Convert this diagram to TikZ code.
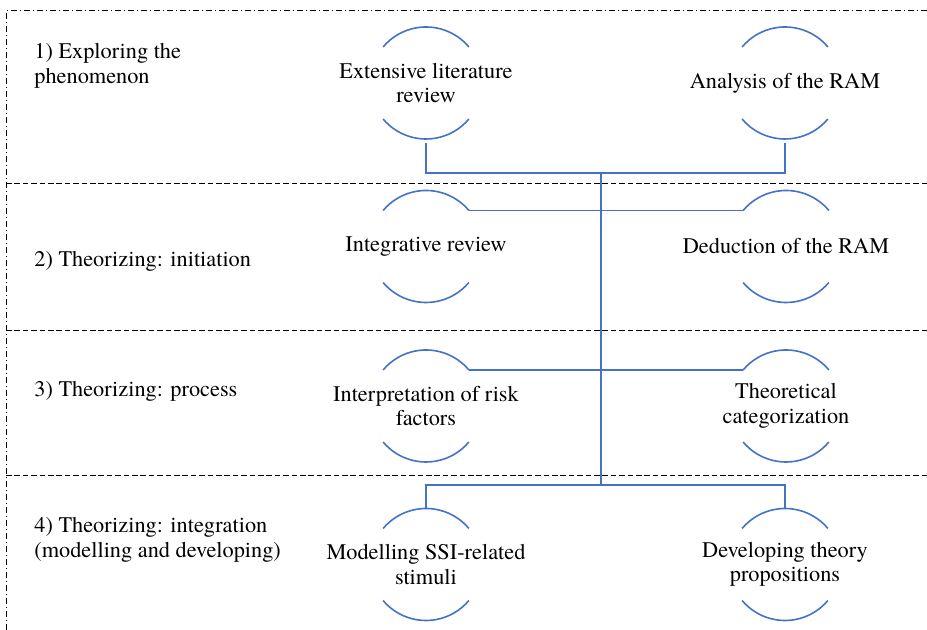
\documentclass[tikz,border=0pt]{standalone}
\usepackage{fontspec}
\setmainfont{texgyretermes-regular.otf}
\usetikzlibrary{calc}
\definecolor{wblue}{HTML}{4472C4}
\begin{document}
\begin{tikzpicture}[x=0.5pt,y=0.5pt,
  ringtext/.style={inner sep=0pt, align=center, font=\rmfamily\fontsize{11.15}{12.25}\selectfont},
  lbl/.style={anchor=west, align=left, inner sep=0pt, font=\rmfamily\fontsize{11.15}{12.5}\selectfont},
  arcline/.style={draw=wblue, line width=0.8pt},
  conn/.style={draw=wblue, line width=0.8pt},
  sepline/.style={draw=black, line width=0.5pt, dash pattern=on 2.8pt off 1.4pt},
  frameline/.style={draw=black, line width=0.5pt, dash pattern=on 3pt off 1.5pt on 0.5pt off 1.5pt}]
\useasboundingbox (0,0) rectangle (927,630);

% frame and row separators
\draw[frameline] (6,0) -- (6,619) -- (927,619);
\draw[sepline] (6,446) -- (927,446);
\draw[sepline] (6,299) -- (927,299);
\draw[sepline] (6,154) -- (927,154);

% row labels
\node[lbl] (L1) at (34,564) {1) Exploring the\\phenomenon};
\node[lbl] (L2) at (34,369) {2) Theorizing: initiation};
\node[lbl] (L3) at (34,239) {3) Theorizing: process};
\node[lbl] (L4) at (34,90) {4) Theorizing: integration\\(modelling and developing)};

% nodes
\node[ringtext] (A) at (426,547) {Extensive literature\\review};
\node[ringtext] (B) at (785,547) {Analysis of the RAM};
\node[ringtext] (C) at (426,383.5) {Integrative review};
\node[ringtext] (D) at (786,383.5) {Deduction of the RAM};
\node[ringtext] (E) at (426,224) {Interpretation of risk\\factors};
\node[ringtext] (F) at (786,224) {Theoretical\\categorization};
\node[ringtext] (G) at (426,65.5) {Modelling SSI-related\\stimuli};
\node[ringtext] (H) at (785,65.5) {Developing theory\\propositions};

\foreach \n in {A,B,C,D,E,F,G,H}{
  \draw[arcline] ($(\n.center)+(40:28pt)$) arc[start angle=40,end angle=140,radius=28pt];
  \draw[arcline] ($(\n.center)+(220:28pt)$) arc[start angle=220,end angle=320,radius=28pt];
}

% connectors
\coordinate (jt) at (601,457);
\coordinate (jb) at (601,145);
\draw[conn] ($(A.center)+(0,-30pt)$) |- (jt) -| ($(B.center)+(0,-30pt)$);
\draw[conn] (jt) -- (jb);
\draw[conn] ($(C.center)+(40:28pt)$) -- ($(D.center)+(140:28pt)$);
\draw[conn] ($(E.center)+(40:28pt)$) -- ($(F.center)+(140:28pt)$);
\draw[conn] ($(G.center)+(0,28pt)$) |- (jb) -| ($(H.center)+(0,28pt)$);
\end{tikzpicture}
\end{document}
